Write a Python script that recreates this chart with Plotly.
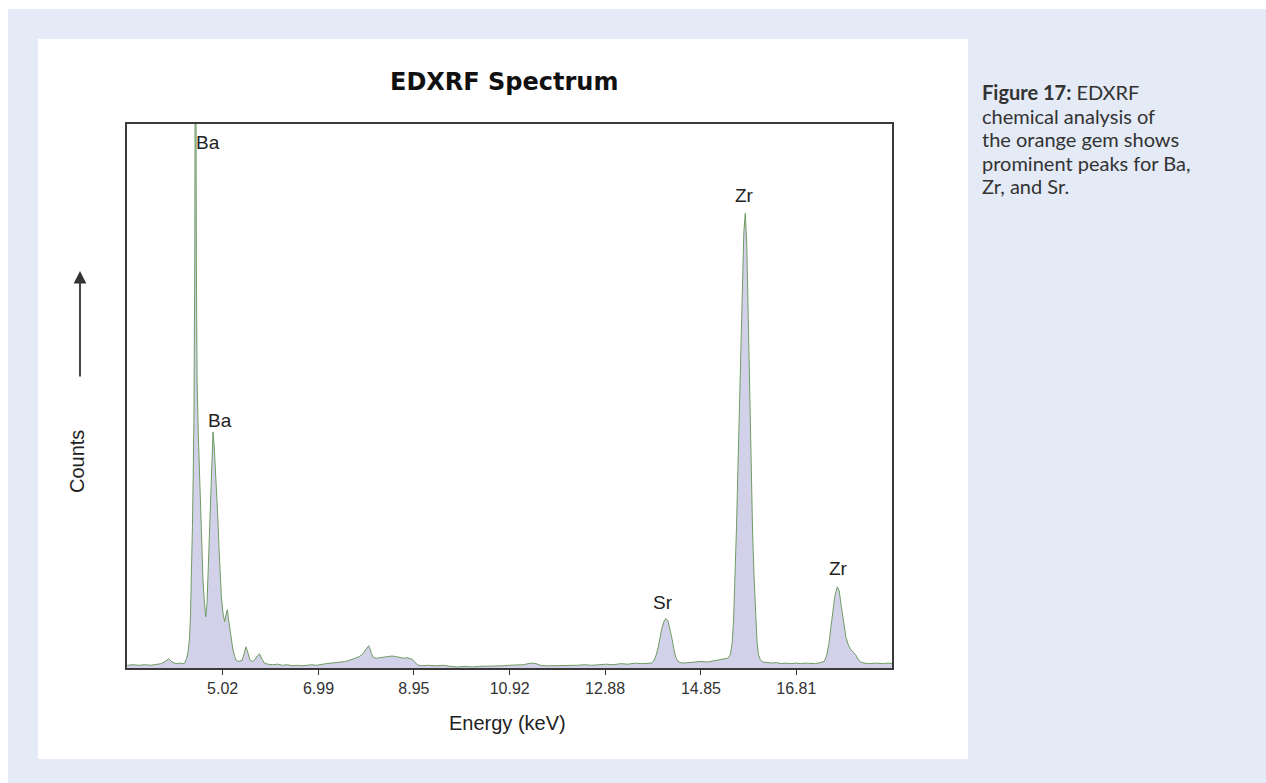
import plotly.graph_objects as go

# ---- data (energy in keV, counts in arbitrary units; 100 = top of frame) ----
energy = [
    3.06, 3.18, 3.30, 3.42, 3.54, 3.66, 3.76, 3.84, 3.91, 3.98,
    4.06, 4.14, 4.20, 4.24, 4.28, 4.31, 4.34, 4.36, 4.38, 4.40,
    4.415, 4.43, 4.448, 4.463, 4.48, 4.495, 4.52, 4.55, 4.585, 4.617,
    4.645, 4.673, 4.70, 4.73, 4.755, 4.78, 4.80, 4.822, 4.845, 4.87,
    4.892, 4.92, 4.945, 4.97, 4.994, 5.027, 5.062, 5.09, 5.117, 5.14,
    5.17, 5.199, 5.23, 5.267, 5.30, 5.35, 5.42, 5.46, 5.50, 5.54,
    5.58, 5.63, 5.68, 5.73, 5.78, 5.83, 5.88, 5.95, 6.05, 6.15,
    6.25, 6.35, 6.45, 6.55, 6.65, 6.75, 6.85, 6.95, 7.05, 7.15,
    7.25, 7.35, 7.45, 7.55, 7.65, 7.75, 7.83, 7.90, 7.95, 7.99,
    8.02, 8.05, 8.08, 8.12, 8.18, 8.25, 8.33, 8.42, 8.50, 8.58,
    8.66, 8.74, 8.80, 8.86, 8.92, 8.96, 9.02, 9.10, 9.25, 9.40,
    9.55, 9.70, 9.85, 10.00, 10.15, 10.30, 10.45, 10.60, 10.75, 10.90,
    11.05, 11.20, 11.30, 11.38, 11.46, 11.55, 11.70, 11.85, 12.00, 12.15,
    12.30, 12.45, 12.60, 12.75, 12.90, 13.05, 13.20, 13.35, 13.50, 13.62,
    13.72, 13.83, 13.88, 13.93, 13.97, 14.01, 14.05, 14.09, 14.13, 14.17,
    14.21, 14.25, 14.29, 14.33, 14.37, 14.42, 14.48, 14.60, 14.72, 14.85,
    14.98, 15.10, 15.22, 15.32, 15.40, 15.45, 15.49, 15.52, 15.55, 15.58,
    15.61, 15.64, 15.67, 15.70, 15.73, 15.76, 15.79, 15.82, 15.85, 15.88,
    15.91, 15.94, 15.97, 16.00, 16.03, 16.07, 16.12, 16.20, 16.30, 16.40,
    16.50, 16.60, 16.70, 16.80, 16.90, 17.00, 17.10, 17.20, 17.30, 17.38,
    17.43, 17.48, 17.52, 17.56, 17.60, 17.65, 17.69, 17.73, 17.78, 17.83,
    17.88, 17.93, 17.98, 18.03, 18.08, 18.13, 18.20, 18.30, 18.45, 18.60,
    18.70, 18.775,
]
counts = [
    0.5, 0.6, 0.5, 0.6, 0.5, 0.6, 0.8, 1.2, 1.7, 1.1,
    0.8, 0.9, 0.8, 0.9, 1.8, 3.0, 5.5, 10.0, 16.0, 26.0,
    35.0, 45.0, 75.0, 150.0, 75.0, 53.0, 43.0, 34.5, 25.0, 16.0,
    12.0, 9.4, 12.0, 20.0, 28.4, 36.0, 41.0, 43.4, 41.0, 37.0,
    34.5, 28.0, 22.3, 17.0, 13.1, 10.1, 8.5, 9.8, 10.7, 9.0,
    7.0, 5.1, 3.5, 2.1, 1.4, 1.2, 1.4, 2.6, 3.9, 2.8,
    1.5, 1.2, 1.5, 2.2, 2.6, 1.6, 0.9, 0.7, 0.6, 0.7,
    0.5, 0.6, 0.4, 0.5, 0.4, 0.5, 0.6, 0.5, 0.7, 0.8,
    0.9, 1.0, 1.1, 1.2, 1.5, 1.8, 2.1, 2.6, 3.3, 3.9,
    4.1, 3.5, 2.6, 1.9, 1.8, 1.9, 2.0, 2.1, 2.2, 2.1,
    2.0, 1.8, 1.9, 1.7, 1.6, 1.2, 0.6, 0.4, 0.5, 0.4,
    0.5, 0.3, 0.2, 0.3, 0.2, 0.3, 0.3, 0.4, 0.4, 0.5,
    0.5, 0.6, 0.8, 0.9, 0.8, 0.5, 0.4, 0.4, 0.5, 0.4,
    0.5, 0.6, 0.5, 0.6, 0.7, 0.6, 0.8, 0.7, 0.9, 0.8,
    0.8, 0.9, 1.3, 2.4, 3.8, 5.8, 7.4, 8.6, 9.1, 8.7,
    7.4, 5.6, 3.6, 2.0, 1.3, 1.0, 0.9, 1.0, 1.1, 1.2,
    1.1, 1.3, 1.4, 1.6, 1.8, 2.4, 4.5, 9.0, 16.0, 26.0,
    37.0, 48.0, 60.0, 71.0, 80.0, 83.6, 78.0, 65.0, 50.0, 37.0,
    25.0, 17.0, 10.0, 5.0, 2.5, 1.5, 1.1, 1.0, 0.9, 1.0,
    0.8, 0.9, 0.8, 0.9, 0.8, 0.9, 0.8, 0.8, 1.0, 1.2,
    2.2, 4.5, 7.5, 10.5, 13.2, 14.9, 14.2, 11.5, 8.2, 5.6,
    4.2, 3.4, 2.9, 2.4, 1.6, 1.1, 0.9, 0.8, 0.9, 0.8,
    0.9, 0.8,
]
assert len(energy) == len(counts)

tick_vals = [5.02, 6.99, 8.95, 10.92, 12.88, 14.85, 16.81]
tick_text = ["5.02", "6.99", "8.95", "10.92", "12.88", "14.85", "16.81"]
x_range = [3.055, 18.775]
y_range = [0, 100]

peak_labels = ["Ba", "Ba", "Sr", "Zr", "Zr"]
peak_label_x = [4.71, 4.96, 14.07, 15.75, 17.67]
peak_label_y = [96.6, 45.5, 12.0, 86.9, 18.3]

caption_lines = [
    "<b>Figure 17:</b> EDXRF",
    "chemical analysis of",
    "the orange gem shows",
    "prominent peaks for Ba,",
    "Zr, and Sr.",
]

# ---- layout geometry (pixels) ----
W, H = 1266, 783
L, R, T, B = 127, 892, 124, 668
PW, PH = R - L, B - T


def px(x):
    return (x - L) / PW


def py(y):
    return (B - y) / PH


fig = go.Figure()
fig.add_trace(go.Scatter(
    x=energy, y=counts, mode="lines",
    line=dict(color="#6f9c62", width=1),
    fill="tozeroy", fillcolor="#d3d1ea",
    hoverinfo="skip", showlegend=False,
))

shapes = [
    dict(type="rect", xref="paper", yref="paper", x0=px(8), x1=px(1270), y0=py(790), y1=py(9),
         fillcolor="#e4eaf6", line=dict(width=0), layer="below"),
    dict(type="rect", xref="paper", yref="paper", x0=px(38), x1=px(968), y0=py(759), y1=py(39),
         fillcolor="#ffffff", line=dict(width=0), layer="below"),
]

annotations = []
for t, xv, yv in zip(peak_labels, peak_label_x, peak_label_y):
    annotations.append(dict(x=xv, y=yv, xref="x", yref="y", text=t, showarrow=False,
                            font=dict(family="Liberation Sans, Arial", size=19, color="#222222"),
                            xanchor="center", yanchor="middle"))

annotations.append(dict(x=px(504), y=py(82), xref="paper", yref="paper", text="<b>EDXRF Spectrum</b>",
                        showarrow=False, font=dict(family="DejaVu Sans", size=24, color="#111111"),
                        xanchor="center", yanchor="middle"))
annotations.append(dict(x=px(507), y=py(723), xref="paper", yref="paper", text="Energy (keV)",
                        showarrow=False, font=dict(family="Liberation Sans, Arial", size=20, color="#222222"),
                        xanchor="center", yanchor="middle"))
annotations.append(dict(x=px(77), y=py(462), xref="paper", yref="paper", text="Counts", textangle=-90,
                        showarrow=False, font=dict(family="Liberation Sans, Arial", size=20, color="#222222"),
                        xanchor="center", yanchor="middle"))
annotations.append(dict(x=px(80), y=py(271), xref="paper", yref="paper", text="", showarrow=True,
                        ax=0, ay=107, axref="pixel", ayref="pixel", arrowhead=2, arrowsize=1.4,
                        arrowwidth=1.8, arrowcolor="#333333", standoff=0))

cap_y0, cap_dy = 92, 23.5
for i, line in enumerate(caption_lines):
    annotations.append(dict(x=px(980), y=py(cap_y0 + i * cap_dy), xref="paper", yref="paper", text=line,
                            showarrow=False, font=dict(family="Lato", size=20, color="#333333"),
                            xanchor="left", yanchor="middle"))

fig.update_layout(
    width=W, height=H,
    margin=dict(l=L, r=W - R, t=T, b=H - B, pad=0),
    paper_bgcolor="#ffffff", plot_bgcolor="#ffffff",
    shapes=shapes, annotations=annotations,
    xaxis=dict(range=x_range, tickvals=tick_vals, ticktext=tick_text, ticks="outside", ticklen=5,
               tickwidth=1, tickcolor="#333333", showgrid=False, zeroline=False, showline=True,
               linecolor="#3a3a3a", linewidth=2, mirror=True,
               tickfont=dict(family="Liberation Sans, Arial", size=16, color="#333333")),
    yaxis=dict(range=y_range, showticklabels=False, ticks="", showgrid=False, zeroline=False,
               showline=True, linecolor="#3a3a3a", linewidth=2, mirror=True),
)

fig.write_html("out.html")
